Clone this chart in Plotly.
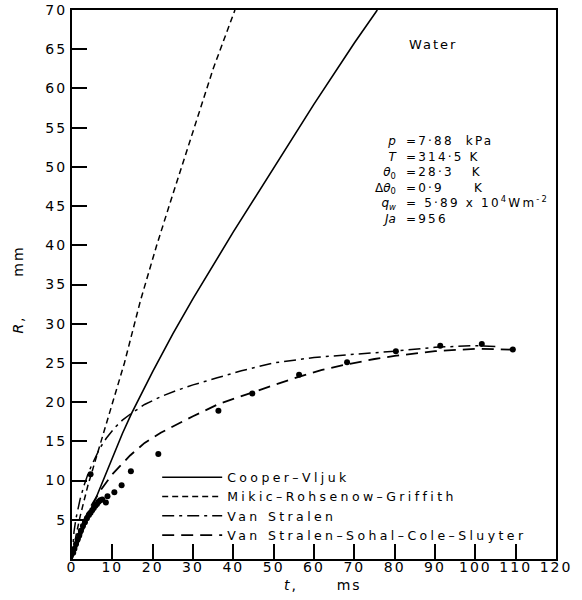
import plotly.graph_objects as go

# Bubble radius R (mm) versus time t (ms), water
cooper_t = [0, 1, 2, 3, 5, 7.5, 10, 12.5, 14.8, 20, 25, 30, 40, 50, 60, 70, 75.7]
cooper_r = [0, 1.4, 2.7, 4.0, 6.6, 9.8, 13.0, 16.0, 18.6, 23.9, 28.7, 33.2, 41.7, 49.9, 58.0, 65.8, 70.0]

mikic_t = [0, 0.5, 1, 2, 3, 4, 5, 7, 10, 13, 17, 21, 25, 30, 35, 40.4]
mikic_r = [0, 1.6, 3.0, 5.4, 7.5, 9.5, 11.2, 14.6, 19.8, 25.0, 33.0, 40.0, 46.5, 54.5, 62.5, 70.0]

vs_t = [0, 0.5, 1, 2, 3, 4, 5, 6, 7, 8.5, 10.7, 12.5, 14.8, 18, 22, 26, 30, 36, 42, 50, 60, 70, 80, 90, 100, 105.4]
vs_r = [0, 3.5, 5.2, 7.6, 9.4, 10.9, 12.1, 13.1, 14.2, 15.4, 16.8, 17.7, 18.6, 19.7, 20.7, 21.5, 22.2, 23.1, 24.0, 25.0, 25.7, 26.1, 26.5, 27.0, 27.2, 27.1]

vsscs_t = [0, 0.5, 1, 2, 3, 4, 5, 7, 10, 14.4, 18, 22, 26, 30, 36.5, 45, 50, 56, 62, 68, 75, 80, 90, 100, 109.4]
vsscs_r = [0, 1.5, 2.4, 3.8, 5.0, 6.0, 7.0, 8.7, 10.8, 13.2, 14.8, 16.1, 17.2, 18.2, 19.8, 21.3, 22.2, 23.2, 24.1, 24.8, 25.5, 25.9, 26.5, 26.8, 26.7]

meas_t = [0.3, 0.6, 1.0, 1.4, 1.8, 2.2, 2.7, 3.2, 3.7, 4.2, 4.6, 5.0, 5.4, 5.8, 6.2, 6.6,
          7.0, 7.5, 8.4, 8.8, 10.5, 12.3, 14.6, 21.4, 36.3, 44.7, 56.3, 68.2, 80.3, 91.3,
          101.6, 109.3, 4.6]
meas_r = [0.8, 1.3, 1.9, 2.5, 3.0, 3.6, 4.2, 4.7, 5.2, 5.6, 5.9, 6.2, 6.5, 6.8, 7.0, 7.3,
          7.5, 7.6, 7.2, 8.0, 8.5, 9.4, 11.2, 13.4, 18.9, 21.1, 23.5, 25.1, 26.5, 27.2,
          27.4, 26.7, 10.8]

x_ticks = [0, 10, 20, 30, 40, 50, 60, 70, 80, 90, 100, 110, 120]
y_ticks = [5, 10, 15, 20, 25, 30, 35, 40, 45, 50, 55, 60, 65, 70]

series_names = ["Cooper–Vljuk", "Mikic–Rohsenow–Griffith", "Van Stralen",
                "Van Stralen–Sohal–Cole–Sluyter"]

param_names = ["<i>p</i>", "<i>T</i>", "<i>θ</i><sub>0</sub>", "Δ<i>θ</i><sub>0</sub>",
               "<i>q</i><sub><i>w</i></sub>", "<i>Ja</i>"]
param_values = ["=7·88&nbsp;&nbsp;kPa", "=314·5&nbsp;K", "=28·3&nbsp;&nbsp;&nbsp;K",
                "=0·9&nbsp;&nbsp;&nbsp;&nbsp;&nbsp;K", "=&nbsp;5·89 x 10<sup>4</sup>Wm<sup>-2</sup>",
                "=956"]

FONT = "DejaVu Sans"
ink = "black"


def spaced(s, px):
    """Wrap text in a span with extra letter spacing."""
    return f'<span style="letter-spacing:{px}px">{s}</span>'


fig = go.Figure()
styles = [
    dict(width=1.6, dash="solid"),
    dict(width=1.5, dash="6px,4px"),
    dict(width=1.5, dash="12px,5px,3px,5px"),
    dict(width=1.8, dash="12px,7px"),
]
for name, tx, ry, st in zip(series_names, [cooper_t, mikic_t, vs_t, vsscs_t],
                            [cooper_r, mikic_r, vs_r, vsscs_r], styles):
    fig.add_trace(go.Scatter(x=tx, y=ry, mode="lines", name=spaced(name, 3.4),
                             line=dict(color=ink, **st)))
fig.add_trace(go.Scatter(x=meas_t, y=meas_r, mode="markers", showlegend=False,
                         marker=dict(color=ink, size=6)))

axis_common = dict(showline=True, linecolor=ink, linewidth=2, mirror=True,
                   showgrid=False, zeroline=False, ticks="inside", ticklen=15,
                   tickwidth=1.5, tickcolor=ink, automargin=False,
                   tickfont=dict(family=FONT, size=14, color=ink))

fig.update_xaxes(range=[0, 120], tickmode="array", tickvals=x_ticks,
                 ticktext=[spaced(str(v), 2) for v in x_ticks],
                 ticklabelstandoff=-6, **axis_common)
fig.update_yaxes(range=[0, 70], tickmode="array", tickvals=y_ticks,
                 ticktext=[spaced(str(v), 2) for v in y_ticks], **axis_common)

annotations = [
    dict(text=spaced("Water", 2), x=89.5, y=65.6, xref="x", yref="y", showarrow=False,
         font=dict(family=FONT, size=13, color=ink)),
    dict(text=spaced("<i>t</i>,&nbsp;&nbsp;&nbsp;&nbsp;&nbsp;&nbsp;ms", 2), x=0.519, y=-0.047,
         xref="paper", yref="paper", showarrow=False, yanchor="middle",
         font=dict(family=FONT, size=14, color=ink)),
    dict(text=spaced("<i>R</i>,&nbsp;&nbsp;&nbsp;&nbsp;&nbsp;&nbsp;mm", 2),
         x=-0.133, y=0.49, xref="paper", yref="paper", showarrow=False, textangle=-90,
         font=dict(family=FONT, size=14, color=ink)),
    dict(text="<br>".join(param_names), x=81.4, y=48.3, xref="x", yref="y",
         showarrow=False, xanchor="right", align="right",
         font=dict(family=FONT, size=12, color=ink)),
    dict(text="<br>".join(spaced(v, 2.2) for v in param_values), x=82.4, y=48.3,
         xref="x", yref="y", showarrow=False, xanchor="left", align="left",
         font=dict(family=FONT, size=12, color=ink)),
]

fig.update_layout(
    width=582, height=600,
    margin=dict(l=72, r=26, t=10, b=41),
    paper_bgcolor="white", plot_bgcolor="white",
    showlegend=True,
    legend=dict(x=0.176, y=0.1755, xanchor="left", yanchor="top",
                bgcolor="rgba(0,0,0,0)", itemwidth=60, tracegroupgap=0,
                font=dict(family=FONT, size=12.5, color=ink)),
    annotations=annotations,
)

fig.write_html("out.html")
